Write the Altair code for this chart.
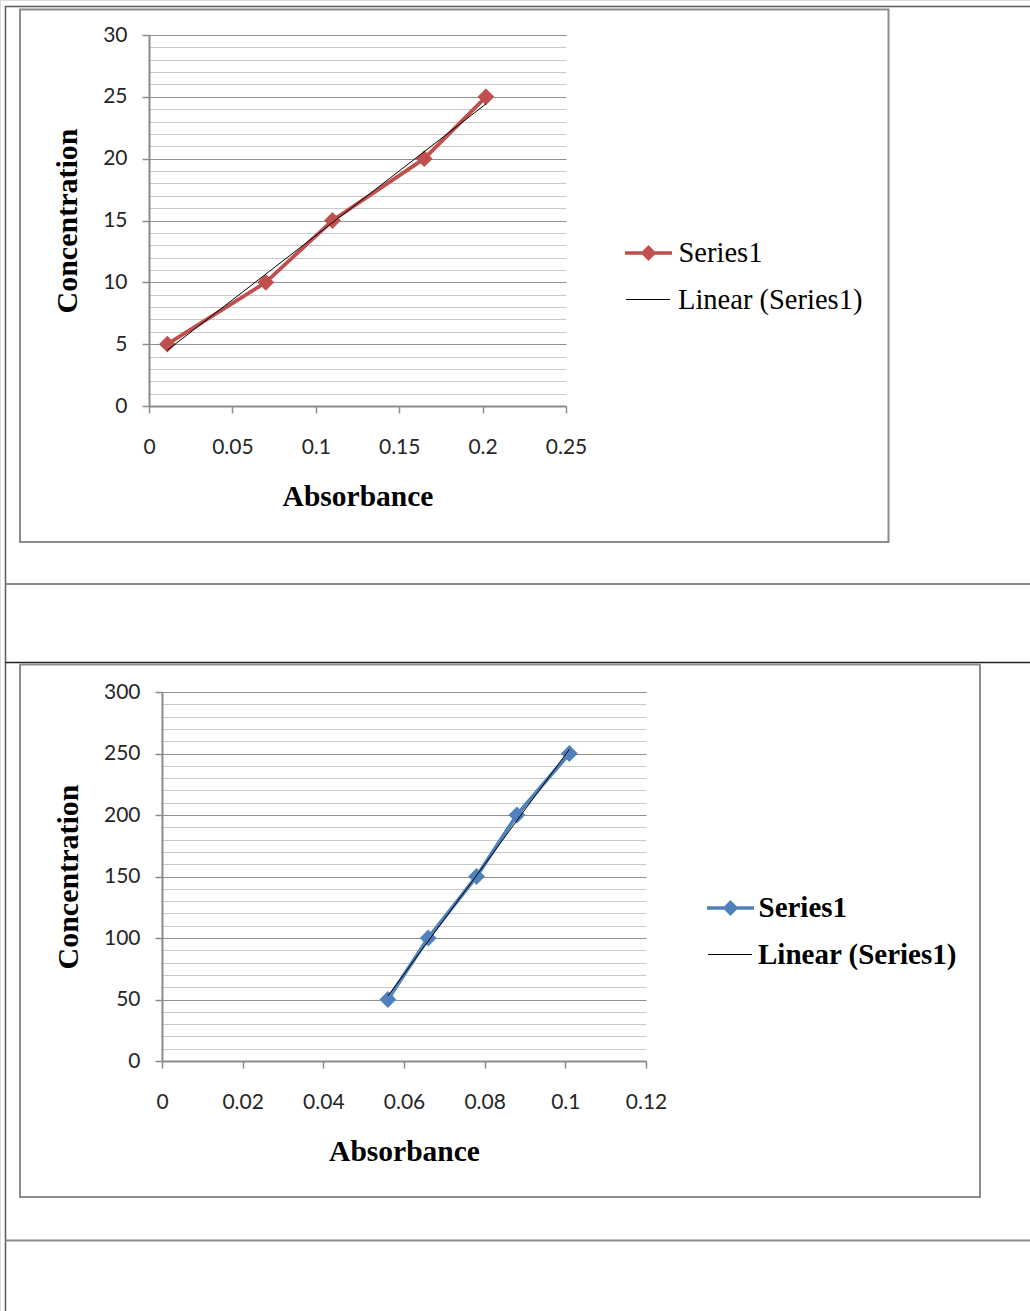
import altair as alt
import pandas as pd

# ---------------- data ----------------
absorbance_1 = [0.011, 0.070, 0.110, 0.165, 0.202]
concentration_1 = [5, 10, 15, 20, 25]
absorbance_2 = [0.056, 0.066, 0.078, 0.088, 0.101]
concentration_2 = [50, 100, 150, 200, 250]

series_label = "Series1"
trend_label = "Linear (Series1)"
x_title = "Absorbance"
y_title = "Concentration"

x_ticks_1 = [0, 0.05, 0.1, 0.15, 0.2, 0.25]
y_ticks_1 = list(range(0, 31, 1))
x_ticks_2 = [0, 0.02, 0.04, 0.06, 0.08, 0.1, 0.12]
y_ticks_2 = list(range(0, 301, 10))

RED = "#C0504D"
BLUE = "#4F81BD"
PAGE_W = 1030
PAGE_H = 1311
ONE = alt.InlineData(values=[{"k": 0}])
SERIES_PATH = "M-1,0H1M0,-0.23L0.23,0L0,0.23L-0.23,0Z"


def rule(x1, x2, y1, y2, c, w):
    return alt.Chart(ONE).mark_rule(color=c, strokeWidth=w).encode(
        x=alt.value(x1), x2=alt.value(x2), y=alt.value(y1), y2=alt.value(y2))


def frame(x1, y1, x2, y2):
    return alt.Chart(ONE).mark_rect(fill="transparent", stroke="#8c8c8c", strokeWidth=2).encode(
        x=alt.value(x1), x2=alt.value(x2), y=alt.value(y1), y2=alt.value(y2))


def graph(xs, ys, color, xticks, yticks, major, plot, leg, bold):
    px0, py0, px1, py1 = plot  # plot-area edges on the page
    df = pd.DataFrame({"Absorbance": xs, "Concentration": ys,
                       "series": [series_label] * len(xs)})
    cond = f"datum.value % {major} === 0"
    X = alt.X("Absorbance:Q",
              scale=alt.Scale(domain=[xticks[0], xticks[-1]], nice=False, zero=False,
                              range=[px0, px1]),
              axis=alt.Axis(values=xticks, format=".2~f", title=x_title, grid=False,
                            orient="bottom", offset=py1 - PAGE_H,
                            domainColor="#8c8c8c", domainWidth=2, tickColor="#8c8c8c",
                            tickSize=7, tickWidth=1.5, labelPadding=23, labelFont="Lato",
                            labelFontSize=21, labelColor="#262626", titleFont="Liberation Serif",
                            titleFontSize=29.5, titleFontWeight="bold", titleColor="black",
                            titlePadding=25, labelFlush=False, labelOverlap=False))
    Y = alt.Y("Concentration:Q",
              scale=alt.Scale(domain=[yticks[0], yticks[-1]], nice=False, zero=False,
                              range=[py1, py0]),
              axis=alt.Axis(values=yticks, format="d",
                            labelExpr=f"{cond} ? datum.label : ''",
                            title=y_title, grid=True, gridWidth=1,
                            orient="left", offset=-px0,
                            gridColor={"condition": {"test": cond, "value": "#8f8f8f"},
                                       "value": "#c8c8c8"},
                            tickColor={"condition": {"test": cond, "value": "#8c8c8c"},
                                       "value": "transparent"},
                            domainColor="#8c8c8c", domainWidth=2, tickSize=7, tickWidth=1.5,
                            labelPadding=15, labelFont="Lato", labelFontSize=21,
                            labelColor="#262626", titleFont="Liberation Serif",
                            titleFontSize=30, titleFontWeight="bold", titleColor="black",
                            titlePadding=20, labelFlush=False, labelOverlap=False))

    weight = "bold" if bold else "normal"
    lsize = 29 if bold else 28.5
    series_legend = alt.Legend(orient="none", legendX=leg[0], legendY=leg[1], title=None,
                               symbolType=SERIES_PATH, symbolSize=47 ** 2,
                               symbolStrokeWidth=3.5, symbolFillColor=color,
                               symbolStrokeColor=color, labelFont="Liberation Serif",
                               labelFontSize=lsize, labelFontWeight=weight, labelColor="black",
                               labelOffset=leg[2], labelLimit=400, padding=0, rowPadding=0)
    trend_legend = alt.Legend(orient="none", legendX=leg[3], legendY=leg[4], title=None,
                              symbolType="stroke", symbolSize=44 ** 2,
                              symbolStrokeWidth=1, symbolStrokeColor="black",
                              labelFont="Liberation Serif", labelFontSize=lsize,
                              labelFontWeight=weight, labelColor="black",
                              labelOffset=leg[5], labelLimit=400, padding=0, rowPadding=0)

    line = alt.Chart(df).mark_line(color=color, strokeWidth=3.8).encode(x=X, y=Y)
    pts = alt.Chart(df).mark_point(shape="diamond", filled=True, size=140, stroke=color,
                                   strokeWidth=3.5, opacity=1).encode(
        x=X, y=Y,
        color=alt.Color("series:N", scale=alt.Scale(domain=[series_label], range=[color]),
                        legend=series_legend))
    trend = alt.Chart(df).transform_regression(
        "Absorbance", "Concentration", method="linear"
    ).transform_calculate(series=f"'{trend_label}'").mark_line(strokeWidth=1).encode(
        x=X, y=Y,
        color=alt.Color("series:N", scale=alt.Scale(domain=[trend_label], range=["black"]),
                        legend=trend_legend))
    return alt.layer(line, pts, trend).resolve_scale(color="independent")


g1 = graph(absorbance_1, concentration_1, RED, x_ticks_1, y_ticks_1, 5,
           plot=(149, 35, 566, 406),
           leg=(623, 227.5, 4.5, 625.5, 277, 7.5), bold=False)
g2 = graph(absorbance_2, concentration_2, BLUE, x_ticks_2, y_ticks_2, 50,
           plot=(162, 692, 646, 1061),
           leg=(705, 882.5, 2.5, 707.5, 932, 5.5), bold=True)

# page (table) decoration
deco = [
    rule(5.5, PAGE_W, 6.5, 6.5, "#5a5a5a", 1.5),
    rule(5.5, 5.5, 6, PAGE_H, "#5a5a5a", 1.5),
    rule(5.5, PAGE_W, 584, 584, "#8a8a8a", 2),
    rule(5.5, PAGE_W, 662.5, 662.5, "#222222", 1.5),
    rule(5.5, PAGE_W, 1240.5, 1240.5, "#8a8a8a", 2),
    frame(20, 9.5, 888.5, 542),
    frame(20, 664.5, 980, 1197),
]

chart = alt.layer(*deco, g1, g2).resolve_scale(
    x="independent", y="independent", color="independent"
).properties(
    width=PAGE_W, height=PAGE_H, padding=0,
    autosize=alt.AutoSizeParams(type="none")
).configure_view(stroke="transparent").configure(background="white")

chart.save("out.html", embed_options={"renderer": "svg", "actions": False})
